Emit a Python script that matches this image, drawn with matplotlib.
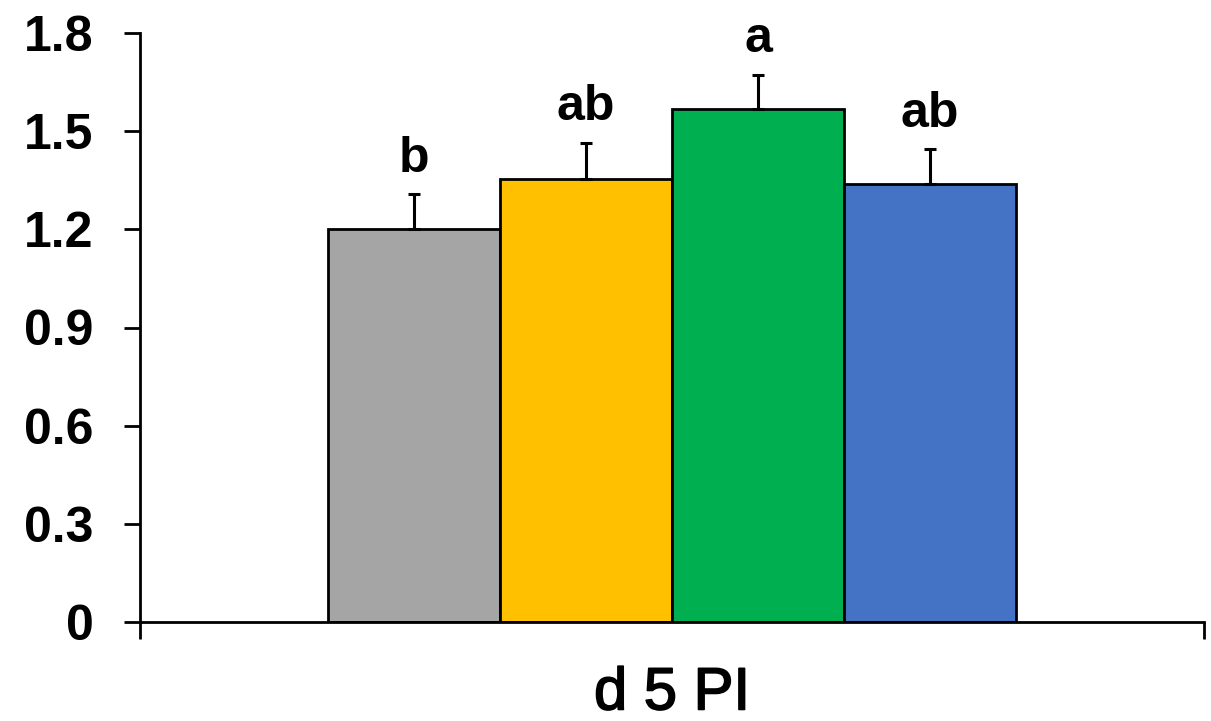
import matplotlib
matplotlib.use("Agg")
import matplotlib.pyplot as plt
import matplotlib.patheffects as pe
import numpy as np

# Data
groups = ["Control", "T1", "T2", "T3"]
means = [1.20, 1.355, 1.567, 1.338]
errors = [0.108, 0.110, 0.106, 0.108]
letters = ["b", "ab", "a", "ab"]
colors = ["#A5A5A5", "#FFC000", "#00B050", "#4472C4"]
category = "d 5 PI"
yticks = [0, 0.3, 0.6, 0.9, 1.2, 1.5, 1.8]
ytick_labels = ["0", "0.3", "0.6", "0.9", "1.2", "1.5", "1.8"]

plt.rcParams["font.family"] = ["Liberation Sans", "DejaVu Sans"]

fig = plt.figure(figsize=(12.11, 7.21), dpi=100)
ax = fig.add_axes([140 / 1211, 1 - 622 / 721, 1064 / 1211, 589 / 721])

x = np.arange(len(means))
ax.bar(x, means, width=1.0, color=colors, edgecolor="black", linewidth=2.0, zorder=2)
ax.errorbar(x, means, yerr=[np.zeros(len(errors)), errors], fmt="none",
            ecolor="black", elinewidth=2.2, capsize=4.5, capthick=2.2, zorder=3)

for xi, m, e, lab in zip(x, means, errors, letters):
    ax.annotate(lab, (xi, m + e), xytext=(0, 16), textcoords="offset points",
                ha="center", va="baseline", fontsize=36, fontweight="bold")

half = 1064 / 172 / 2
ax.set_xlim(1.5 - half, 1.5 + half)
ax.set_ylim(0, 1.8)

ax.set_yticks(yticks)
ax.set_yticklabels(ytick_labels, fontsize=36, fontweight="bold")
ax.tick_params(axis="y", direction="out", length=11.5, width=2.0, pad=22)

ax.set_xticks([1.5])
ax.set_xticklabels([category], fontsize=43)
for lbl in ax.get_xticklabels():
    lbl.set_path_effects([pe.withStroke(linewidth=1.2, foreground="black")])
ax.tick_params(axis="x", which="major", length=0, pad=32)
ax.set_xticks([1.5 - half, 1.5 + half], minor=True)
ax.tick_params(axis="x", which="minor", direction="out", length=12, width=2.0)

for side in ["top", "right"]:
    ax.spines[side].set_visible(False)
for side in ["left", "bottom"]:
    ax.spines[side].set_linewidth(2.0)

fig.savefig("out.png", dpi=100)
